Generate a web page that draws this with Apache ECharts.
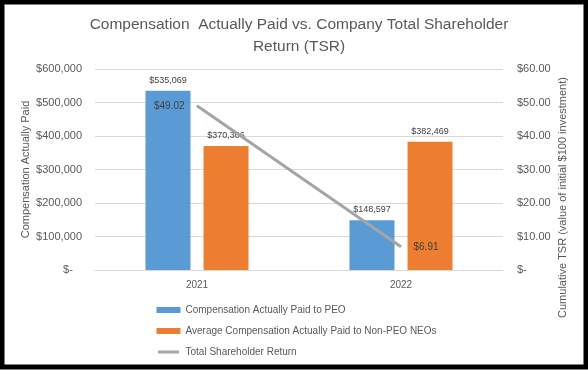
<!DOCTYPE html>
<html>
<head>
<meta charset="utf-8">
<script src="https://cdn.jsdelivr.net/npm/echarts@6/dist/echarts.min.js"></script>
<style>
html,body{margin:0;padding:0;background:#fff;}
#chart{width:588px;height:370px;}
</style>
</head>
<body>
<div id="chart"></div>
<script>
const categories = ['2021', '2022'];
const peoPaid = [535069, 148597];
const nonPeoPaid = [370306, 382469];
const tsr = [49.02, 6.91];
const tsrLabelPos = ['left', 'right'];
const leftTicks = [0, 100000, 200000, 300000, 400000, 500000, 600000];
const rightTicks = [0, 10, 20, 30, 40, 50, 60];

const FONT = '"Liberation Sans", Arial, sans-serif';
const chart = echarts.init(document.getElementById('chart'), null, {renderer: 'canvas'});

function money(v) { return '$' + v.toLocaleString('en-US'); }

chart.setOption({
  animation: false,
  textStyle: {fontFamily: FONT},
  title: {
    text: 'Compensation  Actually Paid vs. Company Total Shareholder\nReturn (TSR)',
    left: 294,
    top: 9,
    textAlign: 'center',
    textStyle: {fontFamily: FONT, fontSize: 15.5, fontWeight: 'normal', color: '#595959', lineHeight: 22, align: 'center'}
  },
  grid: {left: 95, right: 85, top: 69, bottom: 100, containLabel: false},
  legend: {
    orient: 'vertical',
    left: 150,
    top: 300,
    itemWidth: 24,
    itemHeight: 6,
    itemGap: 11,
    textStyle: {fontFamily: FONT, fontSize: 10, color: '#595959'},
    data: [
      {name: 'Compensation Actually Paid to PEO', icon: 'rect'},
      {name: 'Average Compensation Actually Paid to Non-PEO NEOs', icon: 'rect'},
      {name: 'Total Shareholder Return', icon: 'rect', itemStyle: {color: '#A5A5A5', borderColor: '#ffffff', borderWidth: 3}}
    ]
  },
  xAxis: {
    type: 'category',
    data: categories,
    axisLine: {lineStyle: {color: '#D9D9D9'}},
    axisTick: {show: false},
    axisLabel: {color: '#595959', fontSize: 10, margin: 10, fontFamily: FONT}
  },
  yAxis: [
    {
      type: 'value',
      min: leftTicks[0],
      max: leftTicks[leftTicks.length - 1],
      interval: leftTicks[1] - leftTicks[0],
      name: 'Compensation Actually Paid',
      nameLocation: 'middle',
      nameRotate: 90,
      nameGap: 64,
      nameMoveOverlap: false,
      nameTextStyle: {color: '#595959', fontSize: 11, fontFamily: FONT},
      axisLine: {show: false},
      axisTick: {show: false},
      axisLabel: {
        color: '#595959', fontSize: 11, margin: 13, fontFamily: FONT,
        formatter: v => v === 0 ? '$-   ' : money(v)
      },
      splitLine: {lineStyle: {color: '#D9D9D9'}}
    },
    {
      type: 'value',
      position: 'right',
      min: rightTicks[0],
      max: rightTicks[rightTicks.length - 1],
      interval: rightTicks[1] - rightTicks[0],
      name: 'Cumulative TSR (value of initial $100 investment)',
      nameLocation: 'middle',
      nameRotate: 90,
      nameGap: 54,
      nameMoveOverlap: false,
      nameTextStyle: {color: '#595959', fontSize: 11, fontFamily: FONT, padding: [0, 56, 0, 0]},
      axisLine: {show: false},
      axisTick: {show: false},
      axisLabel: {
        color: '#595959', fontSize: 11, margin: 14, fontFamily: FONT,
        formatter: v => v === 0 ? '$-' : '$' + v.toFixed(2)
      },
      splitLine: {show: false}
    }
  ],
  series: [
    {
      name: 'Compensation Actually Paid to PEO',
      type: 'bar',
      yAxisIndex: 0,
      data: peoPaid,
      barWidth: 45,
      barGap: '29%',
      itemStyle: {color: '#5B9BD5'},
      label: {show: true, position: 'top', distance: 6, color: '#404040', fontSize: 9, fontFamily: FONT, formatter: p => money(p.value)}
    },
    {
      name: 'Average Compensation Actually Paid to Non-PEO NEOs',
      type: 'bar',
      yAxisIndex: 0,
      data: nonPeoPaid,
      barWidth: 45,
      barGap: '29%',
      itemStyle: {color: '#ED7D31'},
      label: {show: true, position: 'top', distance: 6, color: '#404040', fontSize: 9, fontFamily: FONT, formatter: p => money(p.value)}
    },
    {
      name: 'Total Shareholder Return',
      type: 'line',
      yAxisIndex: 1,
      symbol: 'circle',
      symbolSize: 1,
      showSymbol: true,
      z: 5,
      lineStyle: {color: '#A5A5A5', width: 3},
      itemStyle: {color: '#A5A5A5'},
      data: tsr.map((v, i) => ({value: v, label: {position: tsrLabelPos[i]}})),
      label: {show: true, distance: 12, color: '#404040', fontSize: 10, fontFamily: FONT, formatter: p => '$' + p.value.toFixed(2)}
    }
  ],
  graphic: [
    {type: 'rect', z: 100, silent: true, shape: {x: 2, y: 2, width: 584, height: 365}, style: {fill: 'none', stroke: '#000', lineWidth: 5}}
  ]
});
</script>
</body>
</html>
